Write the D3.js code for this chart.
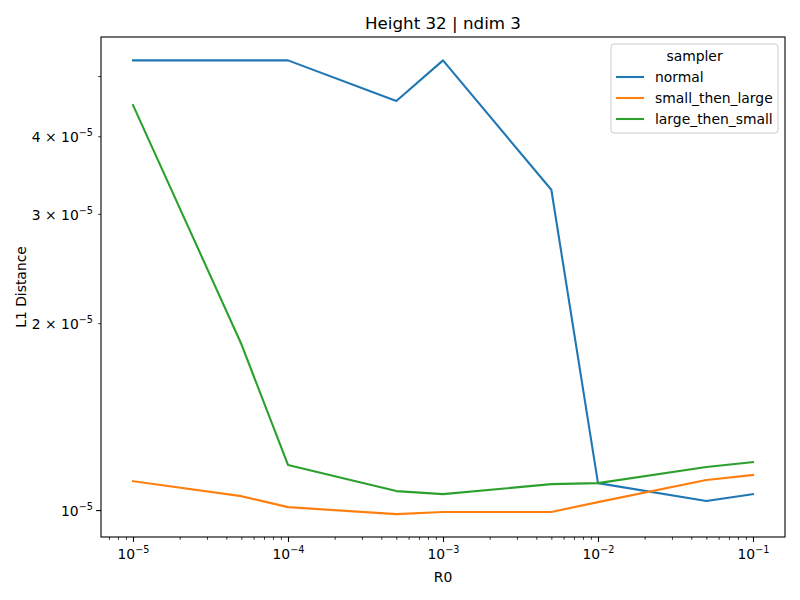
<!DOCTYPE html>
<html>
<head>
<meta charset="utf-8">
<script src="https://cdn.jsdelivr.net/npm/d3@7"></script>
<style>
  body { margin: 0; background: #fff; }
  text { font-family: "DejaVu Sans", sans-serif; fill: #000; }
</style>
</head>
<body>
<div id="chart"></div>
<script>
// R0 values on the x axis
const r0 = [1e-5, 5e-5, 1e-4, 5e-4, 1e-3, 5e-3, 1e-2, 5e-2, 1e-1]

const normal = [5.30e-5, 5.30e-5, 5.30e-5, 4.56e-5, 5.30e-5, 3.28e-5, 1.105e-5, 1.034e-5, 1.061e-5]
const smallThenLarge = [1.113e-5, 1.053e-5, 1.011e-5, 0.985e-5, 0.993e-5, 0.993e-5, 1.030e-5, 1.118e-5, 1.139e-5]
const largeThenSmall = [4.49e-5, 1.851e-5, 1.182e-5, 1.073e-5, 1.061e-5, 1.101e-5, 1.105e-5, 1.173e-5, 1.195e-5]

const seriesNames = ["normal", "small_then_large", "large_then_small"]
const seriesValues = [normal, smallThenLarge, largeThenSmall]

const xMajor = [1e-5, 1e-4, 1e-3, 1e-2, 1e-1]
const yLabeled = [1e-5, 2e-5, 3e-5, 4e-5]
const yLabels = [["10", "−5"], ["2 × 10", "−5"], ["3 × 10", "−5"], ["4 × 10", "−5"]]
const yMinorOnly = [5e-5]

const width = 800, height = 600
const margin = { top: 37, right: 15, bottom: 63, left: 101 }

const color = d3.scaleOrdinal().domain(seriesNames).range(["#1f77b4", "#ff7f0e", "#2ca02c"])

const x = d3.scaleLog()
    .domain([Math.pow(10, -5.2065), Math.pow(10, -0.7935)])
    .range([margin.left, width - margin.right])

const y = d3.scaleLog()
    .domain([9.05e-6, 5.78e-5])
    .range([height - margin.bottom, margin.top])

const svg = d3.select("#chart").append("svg")
    .attr("width", width)
    .attr("height", height)

// minor x ticks: 2..9 per decade inside the domain
const xMinor = []
for (let e = -6; e <= 0; e++) {
    for (let m = 2; m <= 9; m++) {
        const v = m * Math.pow(10, e)
        if (v >= x.domain()[0] && v <= x.domain()[1]) xMinor.push(v)
    }
}

const xAxis = g => g
    .attr("transform", `translate(0,${height - margin.bottom})`)
    .call(d3.axisBottom(x).tickValues(xMajor).tickSize(4.9).tickPadding(3.5).tickFormat(""))
    .call(g => g.select(".domain").remove())
    .call(g => g.selectAll(".tick line").attr("stroke-width", 1.1))
    .call(g => g.selectAll(".tick").append("text")
        .attr("y", 22)
        .attr("text-anchor", "middle")
        .attr("font-size", 13.9)
        .each(function (d) {
            const t = d3.select(this)
            t.append("tspan").text("10")
            t.append("tspan").attr("dy", -6).attr("font-size", 9.7).text("−" + Math.round(-Math.log10(d)))
        }))

const xMinorAxis = g => g
    .attr("transform", `translate(0,${height - margin.bottom})`)
    .call(d3.axisBottom(x).tickValues(xMinor).tickSize(2.8).tickFormat(""))
    .call(g => g.select(".domain").remove())
    .call(g => g.selectAll(".tick line").attr("stroke-width", 0.8))

const yAxis = g => g
    .attr("transform", `translate(${margin.left},0)`)
    .call(d3.axisLeft(y).tickValues(yLabeled).tickFormat(""))
    .call(g => g.select(".domain").remove())
    .call(g => g.selectAll(".tick line")
        .attr("x2", (d, i) => i === 0 ? -4.9 : -2.8)
        .attr("stroke-width", (d, i) => i === 0 ? 1.1 : 0.8))
    .call(g => g.selectAll(".tick").append("text")
        .attr("x", -8)
        .attr("dy", "0.4em")
        .attr("text-anchor", "end")
        .attr("font-size", 13.9)
        .each(function (d, i) {
            const t = d3.select(this)
            t.append("tspan").text(yLabels[i][0])
            t.append("tspan").attr("dy", -6).attr("font-size", 9.7).text(yLabels[i][1])
        }))

const yMinorAxis = g => g
    .attr("transform", `translate(${margin.left},0)`)
    .call(d3.axisLeft(y).tickValues(yMinorOnly).tickSize(2.8).tickFormat(""))
    .call(g => g.select(".domain").remove())
    .call(g => g.selectAll(".tick line").attr("stroke-width", 0.8))

// Draw lines
const line = d3.line()
    .x((d, i) => x(r0[i]))
    .y(d => y(d))

svg.append("g")
    .selectAll("path")
    .data(seriesValues)
    .join("path")
    .attr("fill", "none")
    .attr("stroke", (d, i) => color(seriesNames[i]))
    .attr("stroke-width", 2.1)
    .attr("stroke-linejoin", "round")
    .attr("stroke-linecap", "square")
    .attr("d", line)

svg.append("g").call(xMinorAxis)
svg.append("g").call(xAxis)
svg.append("g").call(yMinorAxis)
svg.append("g").call(yAxis)

// frame
svg.append("rect")
    .attr("x", margin.left)
    .attr("y", margin.top)
    .attr("width", width - margin.left - margin.right)
    .attr("height", height - margin.top - margin.bottom)
    .attr("fill", "none")
    .attr("stroke", "#000")
    .attr("stroke-width", 1.1)

// legend
const lg = svg.append("g").attr("transform", "translate(611,44)")
lg.append("rect")
    .attr("width", 167)
    .attr("height", 89)
    .attr("rx", 3)
    .attr("fill", "#fff")
    .attr("fill-opacity", 0.8)
    .attr("stroke", "#ccc")
    .attr("stroke-width", 1)
lg.append("text")
    .attr("x", 83.5)
    .attr("y", 17)
    .attr("text-anchor", "middle")
    .attr("font-size", 13.9)
    .text("sampler")
seriesNames.forEach((name, i) => {
    const yy = 33 + i * 21
    lg.append("line")
        .attr("x1", 5).attr("x2", 33)
        .attr("y1", yy).attr("y2", yy)
        .attr("stroke", color(name))
        .attr("stroke-width", 2.1)
    lg.append("text")
        .attr("x", 44)
        .attr("y", yy)
        .attr("dy", "0.35em")
        .attr("font-size", 13.9)
        .text(name)
})

// Titles
svg.append("text")
    .attr("x", (margin.left + width - margin.right) / 2)
    .attr("y", 29)
    .attr("text-anchor", "middle")
    .attr("font-size", 16.7)
    .text("Height 32 | ndim 3")

svg.append("text")
    .attr("x", (margin.left + width - margin.right) / 2)
    .attr("y", 582)
    .attr("text-anchor", "middle")
    .attr("font-size", 13.9)
    .text("R0")

svg.append("text")
    .attr("transform", `translate(26,${(margin.top + height - margin.bottom) / 2}) rotate(-90)`)
    .attr("text-anchor", "middle")
    .attr("font-size", 13.9)
    .text("L1 Distance")
</script>
</body>
</html>
